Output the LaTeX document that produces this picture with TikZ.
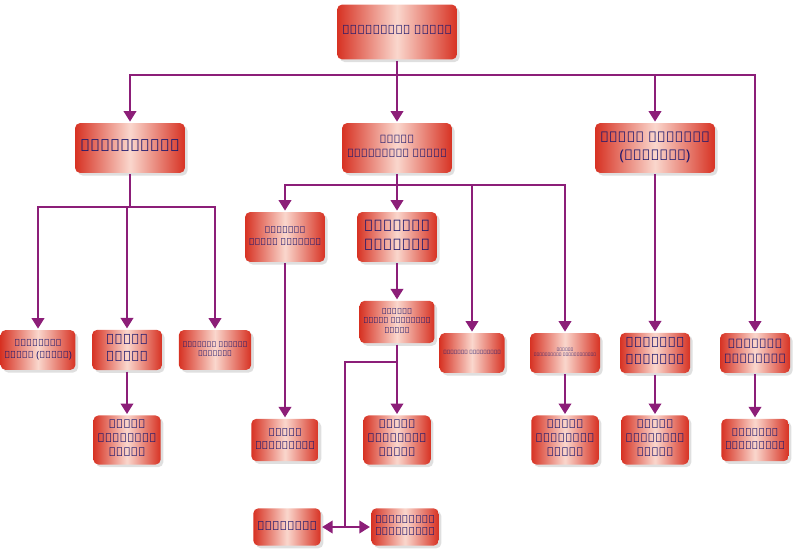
\documentclass[tikz,border=0pt]{standalone}
\usepackage{fontspec}
\setmainfont{Noto Sans}
\usetikzlibrary{arrows.meta,shadows,positioning}
\definecolor{linkpurple}{RGB}{140,30,120}
\definecolor{boxred}{RGB}{215,50,35}
\definecolor{boxpink}{RGB}{250,215,205}
\definecolor{txtnavy}{RGB}{30,25,110}
\newsavebox\lblbox
\newcommand\lbl[2]{\sbox\lblbox{\begin{tabular}{@{}c@{}}#2\end{tabular}}%
  \ifdim\wd\lblbox>#1\relax\resizebox{#1}{!}{\usebox\lblbox}\else\usebox\lblbox\fi}
\begin{document}
\begin{tikzpicture}[x=0.02cm,y=-0.02cm,
  line width=1.5pt, >={Triangle[length=6pt,width=7pt]},
  post/.style={rectangle, rounded corners=3pt, draw=none,
    left color=boxred, right color=boxred, middle color=boxpink,
    drop shadow={shadow xshift=1.5pt,shadow yshift=-1.5pt,fill=gray!50},
    text=txtnavy, align=center, font=\bfseries\footnotesize, inner sep=2pt},
  link/.style={draw=linkpurple, line width=1.5pt}
]
\useasboundingbox (0,0) rectangle (794,550);

% top levels
\node[post, minimum width=2.4cm, minimum height=1.1cm, font=\bfseries\large] (top) at (397,32) {\lbl{2.2cm}{ප්‍රාදේශීය ලේකම්}};
\node[post, minimum width=2.2cm, minimum height=1cm, font=\bfseries\normalsize] (acc) at (130,148) {\lbl{2cm}{ගණකාධිකාරී}};
\node[post, minimum width=2.2cm, minimum height=1cm, font=\bfseries\small] (asd) at (397,148) {\lbl{2cm}{සහකාර\\ප්‍රාදේශීය ලේකම්}};
\node[post, minimum width=2.4cm, minimum height=1cm, font=\bfseries\small] (adp) at (655,148) {\lbl{2.2cm}{සහකාර අධ්‍යක්ෂ\\(සැලසුම්)}};
\node[post, minimum width=1.6cm, minimum height=1cm, font=\bfseries\small] (pgn) at (285,237) {\lbl{1.45cm}{පරිපාලන\\ග්‍රාම නිලධාරී}};
\node[post, minimum width=1.6cm, minimum height=1cm, font=\bfseries\small] (pn) at (397,237) {\lbl{1.45cm}{පරිපාලන\\නිලධාරී}};

% middle row
\node[post, minimum width=1.5cm, minimum height=0.8cm] (ws) at (38,350) {\lbl{1.35cm}{වැඩසටහන්\\සහකාර (මූල්‍ය)}};
\node[post, minimum width=1.4cm, minimum height=0.8cm] (ms) at (127,350) {\lbl{1.25cm}{මුදල්\\සහකාර}};
\node[post, minimum width=1.45cm, minimum height=0.8cm] (vw) at (215,350) {\lbl{1.3cm}{විශ්‍රාම වැටුප්\\නිලධාරී}};
\node[post, minimum width=1.5cm, minimum height=0.85cm, font=\bfseries\scriptsize] (pr) at (397,322) {\lbl{1.35cm}{ප්‍රධාන\\රාජ්‍ය කළමනාකරණ\\සහකාර}};
\node[post, minimum width=1.3cm, minimum height=0.8cm] (kn) at (472,353) {\lbl{1.15cm}{ක්ෂේත්‍ර නිලධාරීන්}};
\node[post, minimum width=1.4cm, minimum height=0.8cm] (ad) at (565,353) {\lbl{1.25cm}{අතිරේක\\දිස්ත්‍රික් රෙජිස්ට්‍රාර්}};
\node[post, minimum width=1.4cm, minimum height=0.8cm] (sd) at (655,353) {\lbl{1.25cm}{සංවර්ධන\\නිලධාරී}};
\node[post, minimum width=1.4cm, minimum height=0.8cm] (smk) at (755,353) {\lbl{1.25cm}{සමෘද්ධි\\කළමනාකරු}};

% bottom rows
\node[post, minimum width=1.35cm, minimum height=0.85cm, font=\bfseries\scriptsize] (rk1) at (127,440) {\lbl{1.2cm}{රාජ්‍ය\\කළමනාකරණ\\සහකාර}};
\node[post, minimum width=1.35cm, minimum height=0.85cm] (gn) at (285,440) {\lbl{1.2cm}{ග්‍රාම\\නිලධාරීන්}};
\node[post, minimum width=1.35cm, minimum height=0.85cm, font=\bfseries\scriptsize] (rk2) at (397,440) {\lbl{1.2cm}{රාජ්‍ය\\කළමනාකරණ\\සහකාර}};
\node[post, minimum width=1.35cm, minimum height=0.85cm, font=\bfseries\scriptsize] (rk3) at (565,440) {\lbl{1.2cm}{රාජ්‍ය\\කළමනාකරණ\\සහකාර}};
\node[post, minimum width=1.35cm, minimum height=0.85cm, font=\bfseries\scriptsize] (rk4) at (655,440) {\lbl{1.2cm}{රාජ්‍ය\\කළමනාකරණ\\සහකාර}};
\node[post, minimum width=1.35cm, minimum height=0.85cm] (sn) at (755,440) {\lbl{1.2cm}{සමෘද්ධි\\නිලධාරීන්}};
\node[post, minimum width=1.35cm, minimum height=0.75cm, font=\bfseries\small] (rd) at (287,527) {\lbl{1.2cm}{රියදුරන්}};
\node[post, minimum width=1.35cm, minimum height=0.75cm, font=\bfseries\scriptsize] (ks) at (405,527) {\lbl{1.2cm}{කාර්යාලීය\\සහායකයින්}};

% connectors
\coordinate (b1) at (397,75);
\draw[link] (top) -- (b1);
\draw[link,->] (b1) -| (acc);
\draw[link,->] (b1) -- (asd);
\draw[link,->] (b1) -| (adp);
\draw[link,->] (b1) -| (smk);

\coordinate (b2) at (130,207);
\draw[link] (acc) -- (b2);
\draw[link,->] (b2) -| (ws);
\draw[link,->] (b2 -| ms) -- (ms);
\draw[link,->] (b2) -| (vw);

\coordinate (b3) at (397,185);
\draw[link] (asd) -- (b3);
\draw[link,->] (b3) -| (pgn);
\draw[link,->] (b3) -- (pn);
\draw[link,->] (b3) -| (kn);
\draw[link,->] (b3) -| (ad);

\draw[link,->] (pn) -- (pr);
\draw[link,->] (pr) -- (rk2);
\coordinate (b4) at (397,362);
\coordinate (b5) at (345,527);
\draw[link] (b4) -| (b5);
\draw[link,->] (b5) -- (rd);
\draw[link,->] (b5) -- (ks);

\draw[link,->] (adp) -- (sd);
\draw[link,->] (ms) -- (rk1);
\draw[link,->] (pgn) -- (gn);
\draw[link,->] (ad) -- (rk3);
\draw[link,->] (sd) -- (rk4);
\draw[link,->] (smk) -- (sn);
\end{tikzpicture}
\end{document}
